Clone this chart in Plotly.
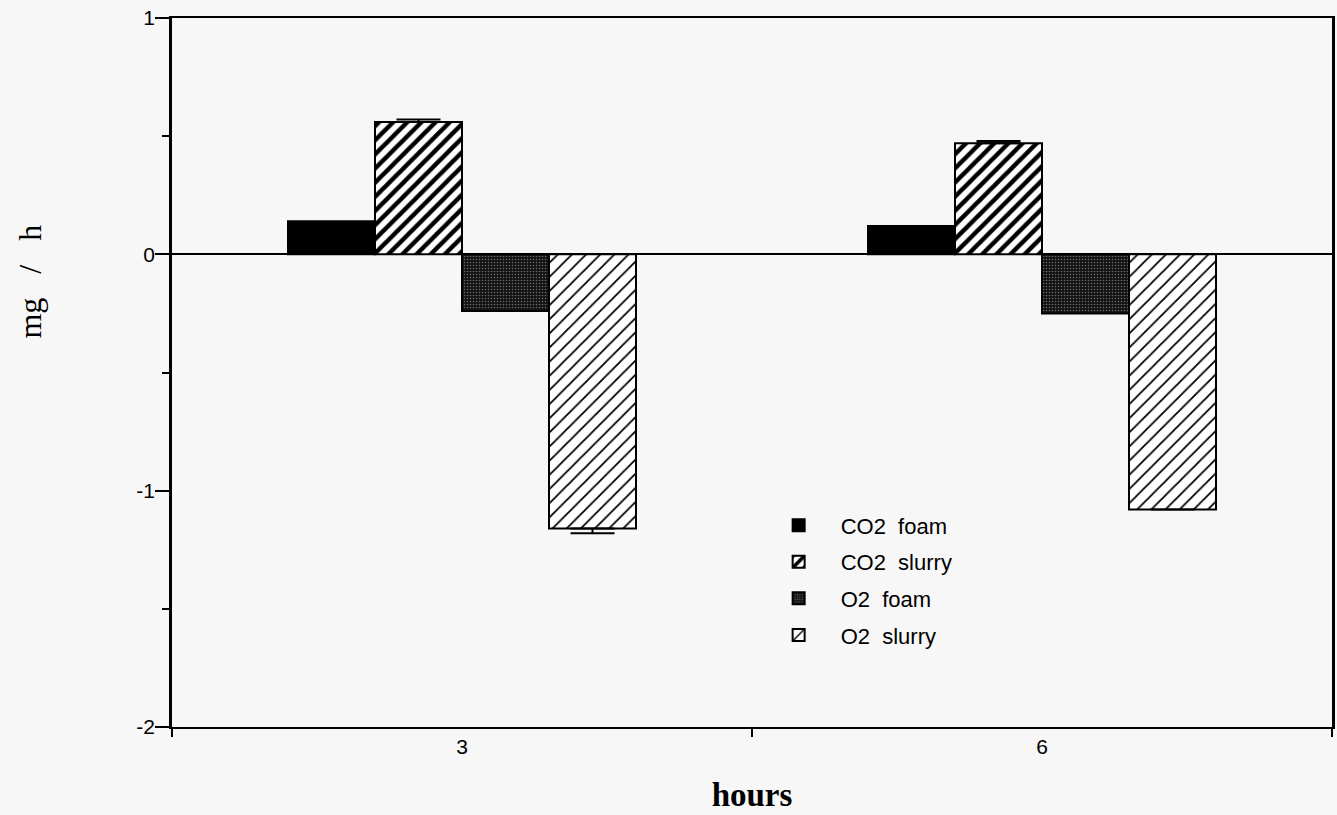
import plotly.graph_objects as go

# Sampling times (hours) and measured rates (mg / h)
hours = ["3", "6"]
co2_foam = [0.14, 0.12]
co2_slurry = [0.56, 0.47]
o2_foam = [-0.24, -0.25]
o2_slurry = [-1.16, -1.08]

# Standard-error bars (upper / lower)
co2_slurry_err = [0.01, 0.01]
o2_slurry_err = [0.02, 0.0]

series_names = ["CO2  foam", "CO2  slurry", "O2  foam", "O2  slurry"]

BG = "#f7f7f7"
SERIF = "Liberation Serif, Times New Roman, serif"

fig = go.Figure()

fig.add_trace(go.Bar(
    x=hours, y=co2_foam, name=series_names[0], legendgroup="a",
    marker=dict(color="black", line=dict(color="black", width=2)),
))
fig.add_trace(go.Bar(
    x=hours, y=co2_slurry, name=series_names[1], legendgroup="b",
    marker=dict(color="white", line=dict(color="black", width=2),
                pattern=dict(shape="/", fgcolor="black", bgcolor="white",
                             fgopacity=1, size=10, solidity=0.45)),
    error_y=dict(type="data", array=co2_slurry_err, arrayminus=[0, 0],
                 symmetric=False, color="black", thickness=2, width=22),
))
fig.add_trace(go.Bar(
    x=hours, y=o2_foam, name=series_names[2], legendgroup="c",
    marker=dict(color="#151515", line=dict(color="black", width=2),
                pattern=dict(shape=".", fgcolor="#6e6e6e", bgcolor="#121212",
                             fgopacity=1, size=3, solidity=0.22)),
))
fig.add_trace(go.Bar(
    x=hours, y=o2_slurry, name=series_names[3], legendgroup="d",
    marker=dict(color="white", line=dict(color="black", width=2),
                pattern=dict(shape="/", fgcolor="black", bgcolor="white",
                             fgopacity=1, size=10, solidity=0.18)),
    error_y=dict(type="data", array=[0, 0], arrayminus=o2_slurry_err,
                 symmetric=False, color="black", thickness=2, width=22),
))

fig.update_layout(
    width=1337, height=815,
    paper_bgcolor=BG, plot_bgcolor=BG,
    margin=dict(l=172, r=2, t=18, b=88),
    barmode="group", bargap=0.4, bargroupgap=0,
    font=dict(family="Arial, Liberation Sans, sans-serif", size=20, color="black"),
    showlegend=True,
    legend=dict(x=0.504, y=0.314, xanchor="left", yanchor="top",
                bgcolor="rgba(0,0,0,0)", font=dict(size=22),
                tracegroupgap=5, itemwidth=74),
    annotations=[dict(
        text="mg   /   h", textangle=-90, showarrow=False,
        xref="paper", yref="paper", x=-0.122, y=0.629,
        xanchor="center", yanchor="middle",
        font=dict(family=SERIF, size=32, color="black"),
    )],
)

fig.update_xaxes(
    type="category", tickson="boundaries",
    ticks="outside", ticklen=8, tickwidth=1.5, tickcolor="black",
    showline=True, linecolor="black", linewidth=2, mirror=True,
    showgrid=False,
    tickfont=dict(size=21),
    title=dict(text="<b>hours</b>", font=dict(family=SERIF, size=33),
               standoff=26),
)

fig.update_yaxes(
    range=[-2, 1], tickvals=[1, 0, -1, -2], ticktext=["1", "0", "-1", "-2"],
    ticks="outside", ticklen=14, tickwidth=1.5, tickcolor="black",
    ticklabelstandoff=-4,
    minor=dict(dtick=0.5, ticks="outside", ticklen=7, tickwidth=1.5, tickcolor="black"),
    showline=True, linecolor="black", linewidth=2.5, mirror=True,
    showgrid=False,
    zeroline=True, zerolinecolor="black", zerolinewidth=1.5,
    tickfont=dict(size=21),
)

fig.write_html("out.html")
